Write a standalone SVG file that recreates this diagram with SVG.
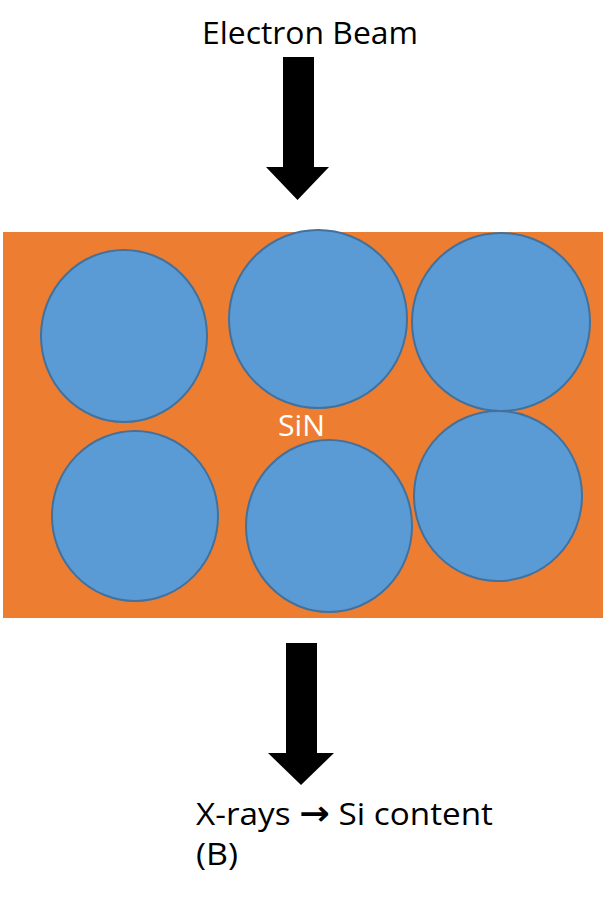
<svg xmlns="http://www.w3.org/2000/svg" width="606" height="904" viewBox="0 0 606 904">
  <style>
    .lbl { font-family: "Open Sans", "Liberation Sans", sans-serif; fill: #000; }
    .grain { fill: #5B9BD5; stroke: #41719C; stroke-width: 2; }
    .arrow { fill: #000; }
  </style>
  <rect width="606" height="904" fill="#fff"/>
  <g id="beam-label">
    <text class="lbl" x="202" y="44" font-size="30.5" textLength="216" lengthAdjust="spacingAndGlyphs">Electron Beam</text>
  </g>
  <g id="sample">
    <rect x="3" y="232" width="600" height="386" fill="#ED7D31"/>
    <ellipse class="grain" cx="124" cy="336" rx="83" ry="86"/>
    <ellipse class="grain" cx="318" cy="319" rx="89" ry="89"/>
    <ellipse class="grain" cx="501" cy="322" rx="89" ry="89"/>
    <ellipse class="grain" cx="135" cy="516" rx="83" ry="85"/>
    <ellipse class="grain" cx="329" cy="526" rx="83" ry="86"/>
    <ellipse class="grain" cx="498" cy="496" rx="84" ry="85"/>
    <text x="278" y="436" font-family="Open Sans, Liberation Sans, sans-serif" font-size="30" fill="#fff" textLength="47" lengthAdjust="spacingAndGlyphs">SiN</text>
  </g>
  <g id="connectors">
    <polygon class="arrow" points="283,57 314,57 314,167 329,167 297.5,200 266,167 283,167"/>
    <polygon class="arrow" points="286,643 317,643 317,753 334,753 301,785 268,753 286,753"/>
  </g>
  <g id="xray-label">
    <text class="lbl" x="196" y="825" font-size="31" textLength="297" lengthAdjust="spacingAndGlyphs">X-rays <tspan font-family="DejaVu Sans, sans-serif" font-size="34" font-weight="bold">→</tspan> Si content</text>
    <text class="lbl" x="196" y="865" font-size="31" textLength="42" lengthAdjust="spacingAndGlyphs">(B)</text>
  </g>
</svg>
